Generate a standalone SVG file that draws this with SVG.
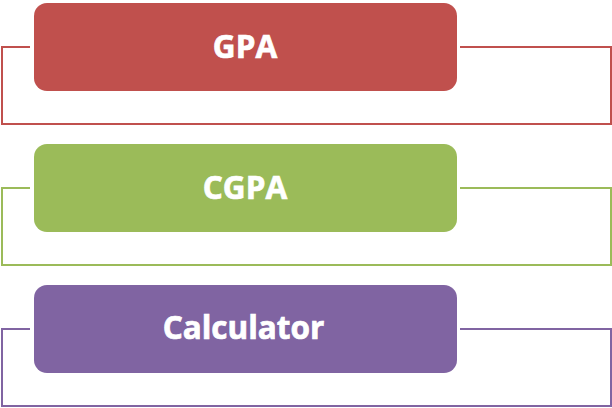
<svg xmlns="http://www.w3.org/2000/svg" width="612" height="408" viewBox="0 0 612 408">
<style>
.frame{fill:none;stroke-width:2}
.box{stroke:none}
.lbl{font-family:"Open Sans","Liberation Sans",sans-serif;font-weight:bold;font-size:31.5px;fill:#fff;stroke:#fff;stroke-width:0.7;text-anchor:middle}
</style>
<rect width="612" height="408" fill="#fff"/>
<g id="connectors">
<path class="frame" stroke="#C0504D" d="M30,47 H2 V124 H611 V47 H460"/>
<path class="frame" stroke="#9BBB59" d="M30,188 H2 V265 H611 V188 H460"/>
<path class="frame" stroke="#8064A2" d="M30,329 H2 V406 H611 V329 H460"/>
</g>
<g id="node-gpa">
<rect class="box" x="34" y="3" width="423" height="88" rx="13" fill="#C0504D"/>
<text class="lbl" x="245" y="57.5">GPA</text>
</g>
<g id="node-cgpa">
<rect class="box" x="34" y="144" width="423" height="88" rx="13" fill="#9BBB59"/>
<text class="lbl" x="245" y="198.5">CGPA</text>
</g>
<g id="node-calculator">
<rect class="box" x="34" y="285" width="423" height="88" rx="13" fill="#8064A2"/>
<text class="lbl" x="243.5" y="338.5">Calculator</text>
</g>
</svg>
